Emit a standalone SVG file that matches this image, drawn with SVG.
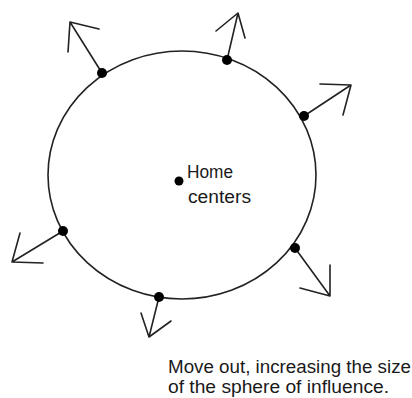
<svg xmlns="http://www.w3.org/2000/svg" width="412" height="398" viewBox="0 0 412 398">
<style>
.ln{fill:none;stroke:#222;stroke-width:1.6;stroke-linecap:round;stroke-linejoin:round}
.dot{fill:#000}
.t{font-family:"Liberation Sans",Arial,sans-serif;font-size:17.5px;fill:#1a1a1a}
</style>
<rect width="412" height="398" fill="#fff"/>
<g id="sphere">
<ellipse class="ln" cx="182" cy="175" rx="134" ry="124"/>
</g>
<g id="connectors">
<path class="ln" d="M102,73 L70,22 M68,52 L70,22 L99,29"/>
<path class="ln" d="M227,60 L238,13 M216,31 L238,13 L245,38"/>
<path class="ln" d="M304,116 L351,85 M320,84 L351,85 L343,115"/>
<path class="ln" d="M63,231 L12,262 M20,233 L12,262 L43,263"/>
<path class="ln" d="M159,297 L149,337 M141,313 L149,337 L171,321"/>
<path class="ln" d="M295,248 L330,296 M330,265 L330,296 L300,288"/>
</g>
<g id="dots">
<circle class="dot" cx="102" cy="73" r="5"/>
<circle class="dot" cx="227" cy="60" r="5"/>
<circle class="dot" cx="304" cy="116" r="5"/>
<circle class="dot" cx="63" cy="231" r="5"/>
<circle class="dot" cx="159" cy="297" r="5"/>
<circle class="dot" cx="295" cy="248" r="5"/>
</g>
<g id="home-centers">
<circle class="dot" cx="179" cy="181" r="4.5"/>
<text class="t" x="187" y="178" textLength="46" lengthAdjust="spacingAndGlyphs">Home</text>
<text class="t" x="188" y="203" textLength="63" lengthAdjust="spacingAndGlyphs">centers</text>
</g>
<g id="caption">
<text class="t" x="168" y="373" textLength="243" lengthAdjust="spacingAndGlyphs">Move out, increasing the size</text>
<text class="t" x="168" y="393" textLength="221" lengthAdjust="spacingAndGlyphs">of the sphere of influence.</text>
</g>
</svg>
